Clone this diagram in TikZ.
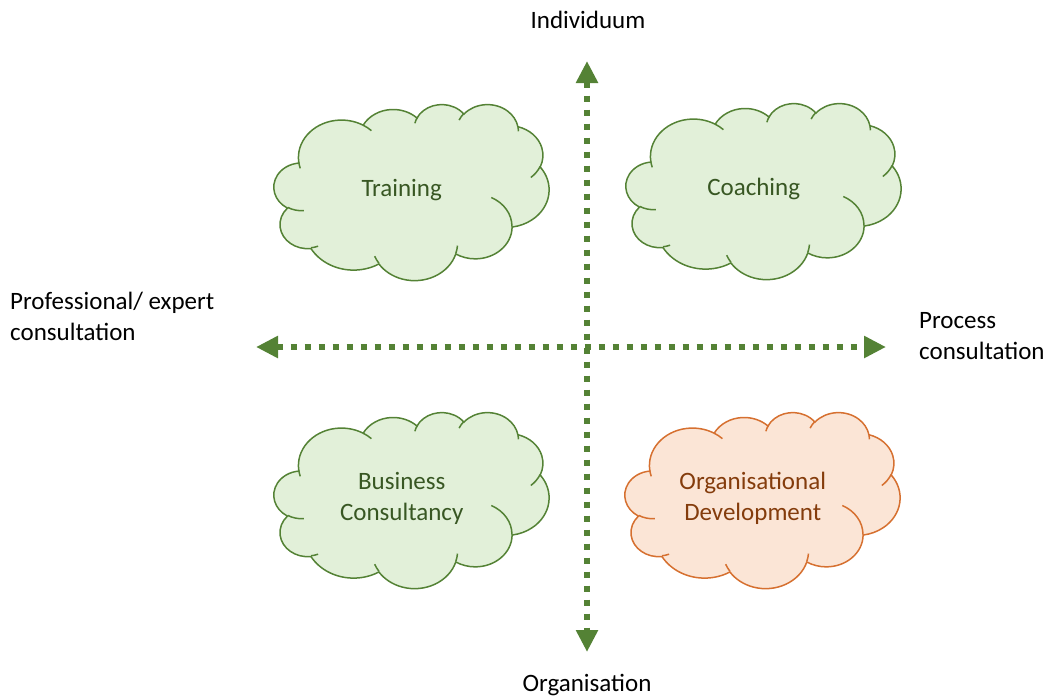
\documentclass[tikz,border=0pt]{standalone}
\usepackage{fontspec}
\setmainfont{Carlito}
\usepackage{tikz}
\usetikzlibrary{arrows.meta}
\definecolor{axisgreen}{RGB}{84,130,53}
\definecolor{leaffill}{RGB}{226,240,217}
\definecolor{leafline}{RGB}{84,130,53}
\definecolor{leaftext}{RGB}{56,87,35}
\definecolor{peachfill}{RGB}{251,229,214}
\definecolor{peachline}{RGB}{214,112,48}
\definecolor{peachtext}{RGB}{132,60,12}

% one puff of the cloud: x radius, y radius, start angle, sweep
% (angles as seen on the ellipse, turned into parameter angles here)
\newcommand{\puff}[4]{arc[x radius=#1, y radius=#2,
  start angle={atan2(#1*sin(#3),#2*cos(#3))},
  delta angle={mod(atan2(#1*sin(#3+#4),#2*cos(#3+#4))-atan2(#1*sin(#3),#2*cos(#3))+720,360)}]}

% outline of the cloud, in a 432 x 432 frame
\newcommand{\cloudbody}{(39.00,143.70)
  \puff{67.53}{91.90}{-190.4875}{123.7805}
  \puff{53.33}{72.67}{-144.1024}{89.9452}
  \puff{43.65}{59.45}{-145.8079}{99.7230}
  \puff{48.57}{65.95}{-130.9861}{117.2417}
  \puff{53.33}{72.73}{-78.7089}{109.0269}
  \puff{67.75}{92.20}{-46.2673}{130.2690}
  \puff{57.85}{78.67}{0.6250}{114.0333}
  \puff{67.52}{92.15}{22.4516}{115.1726}
  \puff{77.20}{105.43}{66.2426}{75.7110}
  \puff{43.60}{59.18}{-274.9421}{146.7356}
  \puff{43.45}{59.45}{-246.8285}{152.5189} -- cycle}

% the small folds inside the cloud
\newcommand{\cloudfolds}{%
  (46.93,261.77) \puff{43.45}{59.45}{86.7420}{26.4295}
  (69.28,348.99) \puff{43.60}{59.18}{73.6105}{11.4475}
  (164.78,390.90) \puff{67.52}{92.15}{137.6242}{14.0811}
  (288.27,347.51) \puff{67.52}{92.15}{6.4533}{15.9984}
  (341.29,229.54) \puff{57.85}{78.67}{-70.2924}{70.9174}
  (417.98,153.54) \puff{53.33}{72.73}{30.3180}{27.7515}
  (383.24,54.26) \puff{48.57}{65.95}{-13.7443}{14.8589}
  (290.78,39.52) \puff{48.57}{65.95}{-149.1815}{18.1954}
  (221.41,47.20) \puff{43.65}{59.45}{-163.4943}{19.5078}
  (140.00,51.92) \puff{67.53}{91.90}{-66.7070}{12.3194}
  (41.27,157.89) \puff{67.53}{91.90}{157.6544}{11.8582}}

% #1 node name, #2 top left corner, #3 colour set, #4 text
\newcommand{\pptcloud}[4]{%
  \begin{scope}[shift={#2}, x={(0.63657pt,0pt)}, y={(0pt,-0.40741pt)}]
    \filldraw[#3cloud] \cloudbody;
    \draw[#3cloud] \cloudfolds;
    \node[#3label] (#1) at (200.64,211) {#4};
  \end{scope}}

\begin{document}
\begin{tikzpicture}[x=1pt, y=-1pt, >={Triangle[length=22pt, width=21pt]},
    font=\fontsize{25}{31}\selectfont,
    axis/.style={<->, axisgreen, line width=6pt, dash pattern=on 6pt off 8pt},
    sidelabel/.style={inner sep=0pt, align=left},
    greencloud/.style={draw=leafline, fill=leaffill, line width=1.5pt},
    orangecloud/.style={draw=peachline, fill=peachfill, line width=1.5pt},
    greenlabel/.style={text=leaftext, align=center, inner sep=0pt},
    orangelabel/.style={text=peachtext, align=center, inner sep=0pt}]
  \useasboundingbox (0,0) rectangle (1052,697);

  % the four fields
  \pptcloud{training}{(274,104)}{green}{Training}
  \pptcloud{coaching}{(626,103)}{green}{Coaching}
  \pptcloud{business}{(274,412)}{green}{Business\\Consultancy}
  \pptcloud{orgdev}{(625,412)}{orange}{Organisational\\Development}

  % axes
  \coordinate (top) at (587,61);
  \coordinate (bottom) at (587,652);
  \coordinate (left) at (256,347);
  \coordinate (right) at (886,347);
  \draw[axis] (left) -- (right);
  \draw[axis] (top) -- (bottom);

  % axis labels
  \node[sidelabel, anchor=base] (individual) at (588,28.3) {Individuum};
  \node[sidelabel, anchor=base] (organisation) at (587,691.5) {Organisation};
  \node[sidelabel, anchor=north west] (expert) at (10,292) {Professional/ expert\\consultation};
  \node[sidelabel, anchor=north west] (process) at (919,312) {Process\\consultation};
\end{tikzpicture}
\end{document}
